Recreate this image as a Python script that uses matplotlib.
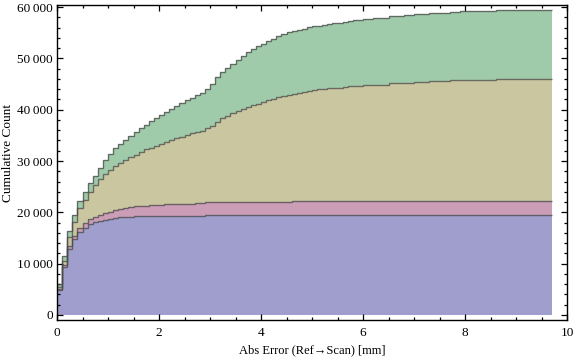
import numpy as np
import matplotlib
matplotlib.use("Agg")
import matplotlib.pyplot as plt
from matplotlib.ticker import MultipleLocator, FuncFormatter

plt.rcParams['font.family'] = ['Liberation Serif', 'DejaVu Serif']

bin_width = 0.1

# cumulative counts of each stacked series, one value per 0.1 mm bin
series_blue = [
    4875, 9350, 12850, 14760, 16080, 16950, 17650, 18100, 18350, 18600,
    18800, 18950, 19000, 19100, 19150, 19240, 19240, 19240, 19240, 19240,
    19240, 19240, 19240, 19240, 19240, 19240, 19240, 19240, 19240, 19480,
    19480, 19480, 19480, 19480, 19480, 19480, 19480, 19480, 19480, 19480,
    19480, 19480, 19480, 19480, 19480, 19480, 19480, 19480, 19480, 19480,
    19480, 19480, 19480, 19480, 19480, 19480, 19480, 19480, 19480, 19480,
    19480, 19480, 19480, 19480, 19480, 19480, 19480, 19480, 19480, 19480,
    19480, 19480, 19480, 19480, 19480, 19480, 19480, 19480, 19480, 19480,
    19480, 19480, 19480, 19480, 19480, 19480, 19480, 19480, 19480, 19480,
    19480, 19480, 19480, 19480, 19480, 19480, 19480,
]
series_pink = [
    230, 330, 620, 700, 850, 930, 960, 1000, 1100, 1200,
    1350, 1500, 1650, 1750, 1850, 1900, 1960, 2060, 2110, 2160,
    2210, 2410, 2410, 2410, 2410, 2410, 2410, 2500, 2500, 2520,
    2520, 2520, 2520, 2520, 2520, 2520, 2600, 2600, 2600, 2600,
    2600, 2600, 2600, 2600, 2600, 2600, 2720, 2720, 2720, 2720,
    2720, 2720, 2720, 2720, 2720, 2720, 2720, 2720, 2720, 2720,
    2720, 2720, 2720, 2720, 2720, 2720, 2720, 2720, 2720, 2720,
    2720, 2720, 2720, 2720, 2720, 2720, 2720, 2720, 2720, 2720,
    2720, 2720, 2720, 2720, 2720, 2720, 2720, 2720, 2720, 2720,
    2720, 2720, 2720, 2720, 2720, 2720, 2720,
]
series_tan = [
    400, 920, 1800, 2710, 3850, 4620, 5420, 6150, 7100, 7760,
    8070, 8600, 8925, 9310, 9750, 10060, 10520, 11000, 11150, 11550,
    11850, 12020, 12475, 12800, 13120, 13380, 13770, 13940, 14160, 14400,
    14900, 15570, 16380, 16850, 17300, 17750, 18070, 18420, 18770, 19120,
    19470, 19820, 20100, 20360, 20560, 20820, 20900, 21090, 21290, 21420,
    21620, 21750, 21820, 21950, 22080, 22080, 22210, 22340, 22470, 22470,
    22530, 22650, 22650, 22650, 22650, 22980, 22980, 22980, 22980, 22980,
    23170, 23170, 23170, 23370, 23370, 23370, 23370, 23560, 23560, 23560,
    23560, 23560, 23560, 23560, 23560, 23560, 23760, 23760, 23760, 23760,
    23760, 23760, 23760, 23760, 23760, 23760, 23760,
]
series_green = [
    450, 950, 1110, 1300, 1450, 1550, 1650, 1750, 2050, 2600,
    3110, 3445, 3705, 3965, 4090, 4420, 4680, 4750, 5250, 5400,
    5650, 5850, 5975, 6300, 6510, 6770, 6840, 7090, 7300, 7700,
    8200, 8780, 9020, 9250, 9650, 9950, 10220, 10650, 11020, 11300,
    11300, 11470, 11640, 11830, 12020, 12150, 12150, 12290, 12290, 12400,
    12400, 12400, 12530, 12600, 12600, 12600, 12660, 12720, 12730, 12730,
    12860, 12860, 13000, 13000, 13000, 13100, 13100, 13100, 13250, 13250,
    13250, 13350, 13350, 13350, 13350, 13350, 13350, 13350, 13350, 13400,
    13400, 13400, 13400, 13400, 13400, 13400, 13400, 13400, 13400, 13400,
    13400, 13400, 13400, 13480, 13480, 13480, 13480,
]

fill_colors = ['#a09ecc', '#cb9db7', '#cac6a0', '#a0cbab']
edge_color = '#4a4a4a'

x_label = 'Abs Error (Ref\u2192Scan) [mm]'
y_label = 'Cumulative Count'
x_ticks = [0, 2, 4, 6, 8, 10]
y_ticks = [0, 10000, 20000, 30000, 40000, 50000, 60000]

layers = [np.array(s, dtype=float) for s in (series_blue, series_pink, series_tan, series_green)]
n_bins = len(layers[0])
edges = np.arange(n_bins + 1) * bin_width

fig = plt.figure(figsize=(5.76, 3.61), dpi=100)
ax = fig.add_axes([57 / 576, 1 - 320 / 361, 510 / 576, 315 / 361])

bottom = np.zeros(n_bins)
tops = []
for layer, col in zip(layers, fill_colors):
    top = bottom + layer
    ax.stairs(top, edges, baseline=bottom, fill=True, color=col, lw=0, zorder=1)
    tops.append(top)
    bottom = top
for top in tops:
    ax.stairs(top, edges, baseline=None, color=edge_color, lw=1.0, alpha=0.75, zorder=2)

ax.set_xlim(0, 10)
ax.set_ylim(-975, 60400)
ax.set_xticks(x_ticks)
ax.set_yticks(y_ticks)
ax.xaxis.set_minor_locator(MultipleLocator(0.5))
ax.yaxis.set_minor_locator(MultipleLocator(2000))


def fmt(v, pos):
    v = int(round(v))
    if v >= 1000:
        return f"{v // 1000}\u2009{v % 1000:03d}"
    return str(v)


ax.yaxis.set_major_formatter(FuncFormatter(fmt))
ax.tick_params(which='both', direction='in', top=True, right=True,
               labeltop=False, labelright=False, labelsize=9.5, width=0.9)
ax.tick_params(which='major', length=4.5)
ax.tick_params(which='minor', length=2.5)
ax.tick_params(axis='x', pad=5)
ax.tick_params(axis='y', pad=3)
for s in ax.spines.values():
    s.set_linewidth(1.0)

ax.set_xlabel(x_label, fontsize=9, labelpad=4)
ax.set_ylabel(y_label, fontsize=9.5, labelpad=4)
ax.yaxis.set_label_coords(-0.085, 0.53)

fig.savefig('out.png', dpi=100)
